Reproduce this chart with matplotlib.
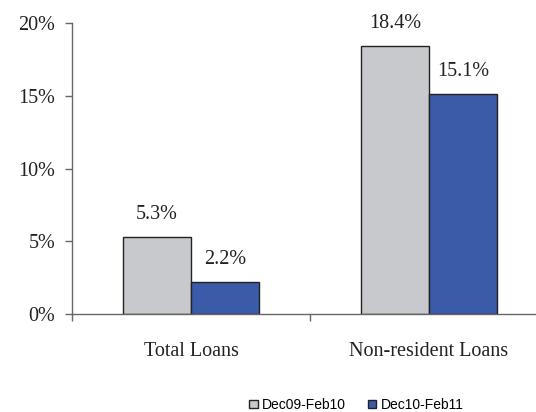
import numpy as np
import matplotlib.pyplot as plt
from matplotlib.ticker import FixedLocator, NullFormatter

categories = ["Total Loans", "Non-resident Loans"]
series_names = ["Dec09-Feb10", "Dec10-Feb11"]
dec09_feb10 = [5.3, 18.4]
dec10_feb11 = [2.2, 15.1]
y_ticks = [0, 5, 10, 15, 20]

colors = ["#C8C9CD", "#3A5BA8"]
serif = ["Liberation Serif", "DejaVu Serif"]
fs = 14.5

fig = plt.figure(figsize=(5.36, 4.12), dpi=100)
ax = fig.add_axes([72 / 536, 98 / 412, 464 / 536, 291 / 412])

x = np.arange(len(categories))
width = 0.286
for i, (vals, name) in enumerate(zip([dec09_feb10, dec10_feb11], series_names)):
    pos = x + (i - 0.5) * width
    bars = ax.bar(pos, vals, width, color=colors[i], edgecolor="#222222",
                  linewidth=1.0, label=name, zorder=2)
    for b, v in zip(bars, vals):
        ax.annotate(f"{v:.1f}%", (b.get_x() + b.get_width() / 2, v),
                    xytext=(0, 9.5), textcoords="offset points",
                    ha="center", va="bottom", fontsize=fs,
                    family=serif, color="#222222")

ax.set_xlim(-0.5, 1.45)
ax.set_ylim(0, 20)
ax.set_yticks(y_ticks)
ax.set_yticklabels([f"{t}%" for t in y_ticks], family=serif, fontsize=fs,
                   color="#222222")

# category labels sit between the boundary ticks
ax.set_xticks(x)
ax.set_xticklabels(categories, family=serif, fontsize=fs, color="#222222")
ax.tick_params(axis="x", which="major", length=0, pad=20)
ax.xaxis.set_minor_locator(FixedLocator([-0.5, 0.5, 1.5]))
ax.xaxis.set_minor_formatter(NullFormatter())
ax.tick_params(axis="x", which="minor", length=5, color="#666666", width=1)
ax.tick_params(axis="y", length=5, color="#666666", width=1, pad=7)

for side in ["top", "right"]:
    ax.spines[side].set_visible(False)
for side in ["left", "bottom"]:
    ax.spines[side].set_color("#666666")
    ax.spines[side].set_linewidth(1)

fig.legend(loc="lower center", bbox_to_anchor=(0.665, -0.03), ncol=2,
           frameon=False, prop={"family": ["Liberation Sans", "DejaVu Sans"], "size": 10},
           handlelength=0.6, handleheight=0.6, handletextpad=0.3, columnspacing=1.6)

fig.savefig("out.png", dpi=100)
